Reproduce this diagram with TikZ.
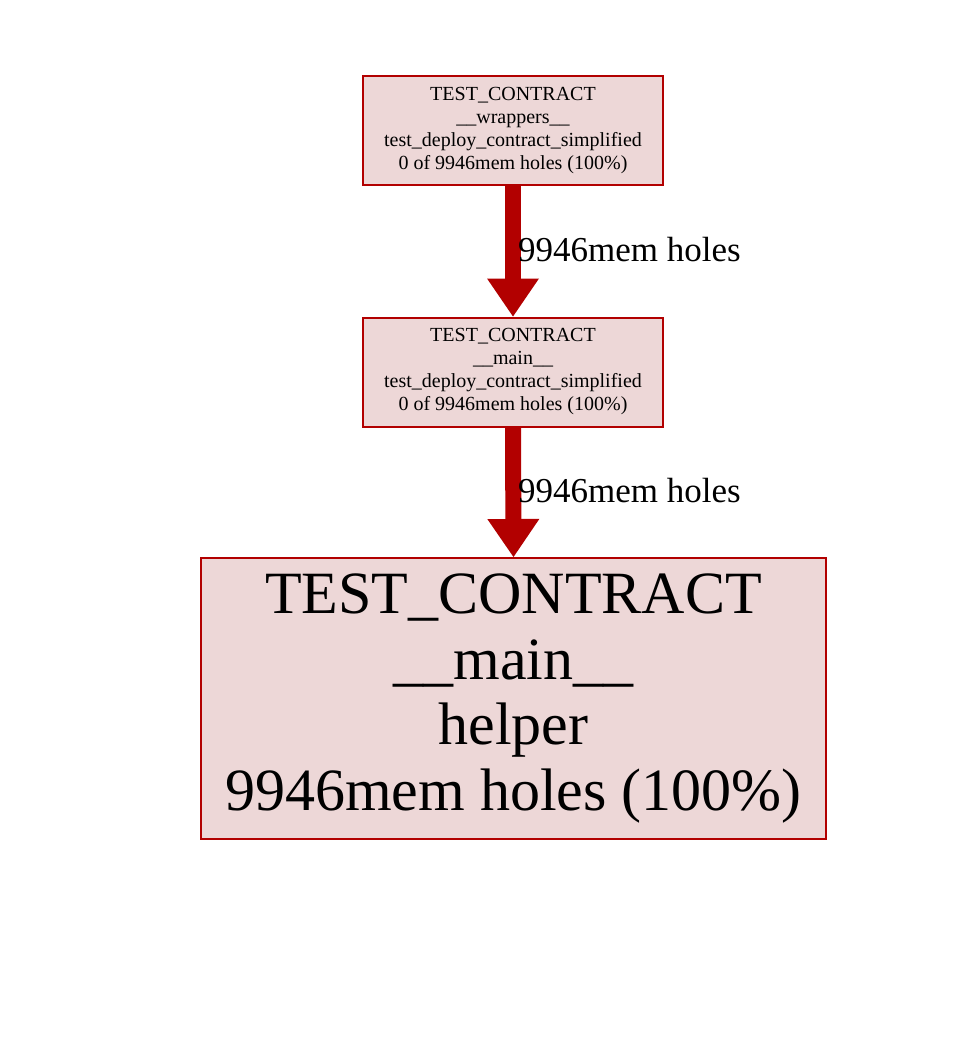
\documentclass[tikz,border=0pt]{standalone}
\usepackage{fontspec}
\setmainfont{Liberation Serif}
\usetikzlibrary{arrows.meta}
\definecolor{boxfill}{RGB}{237,215,215}
\definecolor{boxline}{RGB}{178,0,0}
\tikzset{
  smallbox/.style={draw=boxline, fill=boxfill, line width=2pt, minimum width=300pt, minimum height=109pt, inner sep=0pt, align=center, font=\fontsize{20}{23}\selectfont},
  bigbox/.style={draw=boxline, fill=boxfill, line width=2pt, minimum width=625pt, minimum height=281pt, inner sep=0pt, align=center, font=\fontsize{60}{65.5}\selectfont},
  flow/.style={draw=boxline, line width=16pt, -{Triangle[length=38pt,width=52pt,line width=0pt]}},
  elabel/.style={anchor=base west, inner sep=0pt, font=\fontsize{35}{40}\selectfont}
}
\begin{document}
\begin{tikzpicture}[x=1pt,y=-1pt]
\path[use as bounding box, fill=white] (0,0) rectangle (955,1046);
\node[smallbox] (w) at (513,130.5) {TEST\_CONTRACT\\\_\_wrappers\_\_\\test\_deploy\_contract\_simplified\\0 of 9946mem holes (100\%)};
\node[smallbox] (m) at (513,372) {TEST\_CONTRACT\\\_\_main\_\_\\test\_deploy\_contract\_simplified\\0 of 9946mem holes (100\%)};
\node[bigbox] (h) at (513.5,698.5) {TEST\_CONTRACT\\\_\_main\_\_\\helper\\9946mem holes (100\%)};
\draw[flow] (w.south) -- (m.north);
\draw[flow] (m.south) -- (h.north);
\node[elabel] (l1) at (518,261) {9946mem holes};
\node[elabel] (l2) at (518,502) {9946mem holes};
\end{tikzpicture}
\end{document}
